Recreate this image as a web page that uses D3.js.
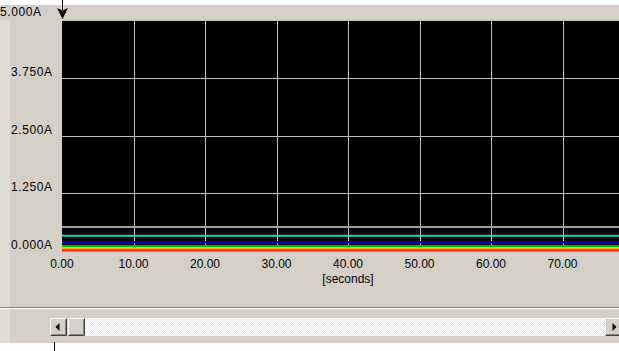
<!DOCTYPE html>
<html><head><meta charset="utf-8">
<script src="https://cdn.jsdelivr.net/npm/d3@7"></script>
<style>
html,body{margin:0;padding:0;background:#fff;overflow:hidden}
text{font-family:"Liberation Sans",Arial,sans-serif;font-size:12px;fill:#000}
</style></head>
<body>
<script>
const yTicks = [0, 1.25, 2.5, 3.75, 5];
const yTickLabels = ["0.000A", "1.250A", "2.500A", "3.750A", "5.000A"];
const xTicks = [0, 10, 20, 30, 40, 50, 60, 70];
const xTickLabels = ["0.00", "10.00", "20.00", "30.00", "40.00", "50.00", "60.00", "70.00"];
const xUnit = "[seconds]";
const seriesNames = ["gray", "cyan", "blue", "green", "yellow", "orange", "red"];
const seriesValues = [0.52, 0.33, 0.19, 0.11, 0.065, 0.03, 0.01];
const seriesColors = ["#a0a0a0", "#00e0e0", "#0000c0", "#00c000", "#e0e000", "#ff8000", "#ff2000"];
const timeSpan = [0, 78];

const W = 619, H = 351;
const svg = d3.select("body").append("svg").attr("width", W).attr("height", H);

const plot = {left: 62, top: 20, right: 619, bottom: 251};
const x = d3.scaleLinear().domain([0, 70]).range([62, 562.5]);
const y = d3.scaleLinear().domain([0, 5]).range([plot.bottom, plot.top]);

// background panels
svg.append("rect").attr("x", 0).attr("y", 0).attr("width", W).attr("height", H).attr("fill", "#fff");
svg.append("rect").attr("x", 0).attr("y", 5).attr("width", W).attr("height", 338).attr("fill", "#d4d0c8");
svg.append("rect").attr("x", 0).attr("y", 20).attr("width", 10).attr("height", 323).attr("fill", "#dedbd5");

// plot area
svg.append("rect").attr("x", plot.left).attr("y", plot.top)
  .attr("width", plot.right - plot.left).attr("height", plot.bottom - plot.top).attr("fill", "#000");

// grid
const g = svg.append("g");
g.selectAll("line.hg").data(yTicks.filter(d => d > 0)).join("line")
  .attr("x1", plot.left).attr("x2", plot.right)
  .attr("y1", d => Math.round(y(d)) + 0.5).attr("y2", d => Math.round(y(d)) + 0.5)
  .attr("stroke", "#bdbdbd").attr("stroke-width", 1);
g.selectAll("line.vg").data(xTicks.filter(d => d > 0)).join("line")
  .attr("x1", d => Math.round(x(d)) + 0.5).attr("x2", d => Math.round(x(d)) + 0.5)
  .attr("y1", plot.top).attr("y2", plot.bottom)
  .attr("stroke", "#bdbdbd").attr("stroke-width", 1);

// series (constant traces)
svg.selectAll("line.s").data(seriesValues).join("line")
  .attr("x1", x(timeSpan[0])).attr("x2", plot.right)
  .attr("y1", d => y(d)).attr("y2", d => y(d))
  .attr("stroke", (d, i) => seriesColors[i]).attr("stroke-width", 2);

// y labels
svg.selectAll("text.yl").data(yTicks).join("text")
  .attr("x", (d, i) => i === yTicks.length - 1 ? 0 : 11)
  .attr("y", (d, i) => i === yTicks.length - 1 ? 16 : y(d) - 2)
  .attr("letter-spacing", "0.6px")
  .text((d, i) => yTickLabels[i]);

// x labels
svg.selectAll("text.xl").data(xTicks).join("text")
  .attr("x", d => x(d)).attr("y", 268).attr("text-anchor", "middle")
  .text((d, i) => xTickLabels[i]);
svg.append("text").attr("x", x(40)).attr("y", 283).attr("text-anchor", "middle").text(xUnit);

// cursor arrow at top
svg.append("line").attr("x1", 62.5).attr("x2", 62.5).attr("y1", 0).attr("y2", 10).attr("stroke", "#000");
svg.append("path").attr("d", "M57,8 L62.5,10.5 L68,8 L62.5,19 Z").attr("fill", "#000");

// separator
svg.append("line").attr("x1", 0).attr("x2", W).attr("y1", 307.5).attr("y2", 307.5).attr("stroke", "#808080");
svg.append("line").attr("x1", 0).attr("x2", W).attr("y1", 308.5).attr("y2", 308.5).attr("stroke", "#fff");

// scrollbar
const defs = svg.append("defs");
const pat = defs.append("pattern").attr("id", "dither").attr("width", 2).attr("height", 2).attr("patternUnits", "userSpaceOnUse");
pat.append("rect").attr("width", 2).attr("height", 2).attr("fill", "#e8e6e2");
pat.append("rect").attr("width", 1).attr("height", 1).attr("fill", "#fff");
pat.append("rect").attr("x", 1).attr("y", 1).attr("width", 1).attr("height", 1).attr("fill", "#fff");
svg.append("rect").attr("x", 85).attr("y", 318).attr("width", 521).attr("height", 18).attr("fill", "url(#dither)");

function button(x0, w, arrow) {
  const b = svg.append("g");
  b.append("rect").attr("x", x0).attr("y", 318).attr("width", w).attr("height", 18).attr("fill", "#d4d0c8");
  b.append("path").attr("d", `M${x0+0.5},${335.5} V${318.5} H${x0+w-0.5}`).attr("stroke", "#fff").attr("fill", "none");
  b.append("path").attr("d", `M${x0+0.5},${335.5} H${x0+w-0.5} V${318.5}`).attr("stroke", "#404040").attr("fill", "none");
  b.append("path").attr("d", `M${x0+1.5},${334.5} H${x0+w-1.5} V${319.5}`).attr("stroke", "#808080").attr("fill", "none");
  if (arrow === "left") {
    const cx = x0 + w / 2;
    b.append("path").attr("d", `M${cx+1},323 L${cx+1},331 L${cx-3},327 Z`).attr("fill", "#000");
  } else if (arrow === "right") {
    const cx = x0 + w / 2;
    b.append("path").attr("d", `M${cx-1},323 L${cx-1},331 L${cx+3},327 Z`).attr("fill", "#000");
  }
}
button(50, 17, "left");
button(68, 17, null);
button(605, 17, "right");

// bottom marker
svg.append("line").attr("x1", 54.5).attr("x2", 54.5).attr("y1", 342).attr("y2", 351).attr("stroke", "#000");
</script>
</body></html>
